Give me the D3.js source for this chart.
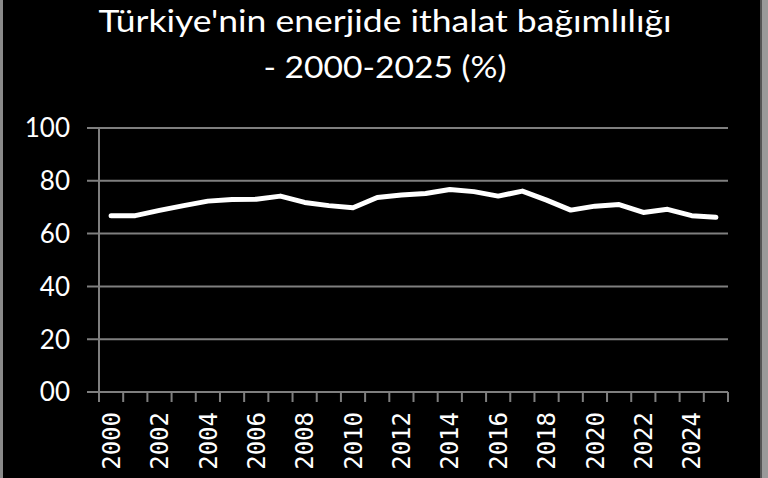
<!DOCTYPE html>
<html>
<head>
<meta charset="utf-8">
<script src="https://cdn.jsdelivr.net/npm/d3@7"></script>
<style>
html,body{margin:0;padding:0;background:#000;}
svg{display:block;}
</style>
</head>
<body>
<svg id="chart" width="768" height="478"></svg>
<script>
const titleLines = ["Türkiye'nin enerjide ithalat bağımlılığı", "- 2000-2025 (%)"];
const years = d3.range(2000, 2026);
const values = [66.8, 66.8, 68.8, 70.6, 72.3, 72.9, 73.0, 74.2, 71.8, 70.6, 69.8, 73.7, 74.6, 75.2, 76.7, 75.9, 74.2, 76.1, 72.7, 68.9, 70.4, 71.0, 68.0, 69.2, 66.8, 66.2];
const yTicks = [0, 20, 40, 60, 80, 100];
const yTickLabels = ["00", "20", "40", "60", "80", "100"];
const xLabelYears = years.filter(y => y % 2 === 0);

const svg = d3.select("#chart");
const W = 768, H = 478;
const m = {left: 99, right: 40, top: 128, bottom: 86};

svg.append("rect").attr("width", W).attr("height", H).attr("fill", "#000");
// frame edges
svg.append("rect").attr("x", 0).attr("y", 0).attr("width", 3).attr("height", H).attr("fill", "#8a8a8a");
svg.append("rect").attr("x", 760).attr("y", 0).attr("width", 8).attr("height", H).attr("fill", "#9a9a9a");
svg.append("rect").attr("x", 760).attr("y", 0).attr("width", 2).attr("height", H).attr("fill", "#555");

const x = d3.scaleBand().domain(years).range([m.left, W - m.right]).padding(0);
const y = d3.scaleLinear().domain([0, 100]).range([H - m.bottom, m.top]);

// gridlines
svg.append("g").selectAll("line").data(yTicks).join("line")
  .attr("x1", m.left - 12).attr("x2", W - m.right)
  .attr("y1", d => y(d)).attr("y2", d => y(d))
  .attr("stroke", "#7f7f7f").attr("stroke-width", 2);

// y axis line
svg.append("line").attr("x1", m.left).attr("x2", m.left)
  .attr("y1", y(100)).attr("y2", y(0)).attr("stroke", "#7f7f7f").attr("stroke-width", 2);

// y labels
svg.append("g").selectAll("text").data(yTicks).join("text")
  .attr("x", 70).attr("y", d => y(d)).attr("dy", "0.36em")
  .attr("text-anchor", "end").attr("fill", "#fff")
  .attr("font-family", "Lato, 'Open Sans', sans-serif").attr("font-size", 26)
  .text((d, i) => yTickLabels[i]);

// x axis ticks
const xBounds = years.map(yr => x(yr)).concat([x(years[years.length - 1]) + x.bandwidth()]);
svg.append("g").selectAll("line").data(xBounds).join("line")
  .attr("x1", d => d).attr("x2", d => d)
  .attr("y1", y(0)).attr("y2", y(0) + 10)
  .attr("stroke", "#7f7f7f").attr("stroke-width", 2);

// x labels
svg.append("g").selectAll("text").data(xLabelYears).join("text")
  .attr("transform", d => `translate(${x(d) + x.bandwidth() / 2},${y(0) + 20}) rotate(-90)`)
  .attr("text-anchor", "end").attr("dy", "0.36em")
  .attr("fill", "#fff")
  .attr("font-family", "'DejaVu Sans Mono', monospace").attr("font-size", 24)
  .text(d => d);

// line
const line = d3.line().x((d, i) => x(years[i]) + x.bandwidth() / 2).y(d => y(d));
svg.append("path").datum(values).attr("d", line)
  .attr("fill", "none").attr("stroke", "#fff").attr("stroke-width", 5)
  .attr("stroke-linejoin", "round").attr("stroke-linecap", "round");

// title
const titleY = [32, 78];
const titleW = [573, 243];
titleLines.forEach((t, i) => {
  svg.append("text").attr("x", 385).attr("y", titleY[i])
    .attr("text-anchor", "middle").attr("fill", "#fff")
    .attr("font-family", "Lato, 'Open Sans', sans-serif").attr("font-size", 30)
    .attr("textLength", titleW[i]).attr("lengthAdjust", "spacingAndGlyphs")
    .text(t);
});
</script>
</body>
</html>
